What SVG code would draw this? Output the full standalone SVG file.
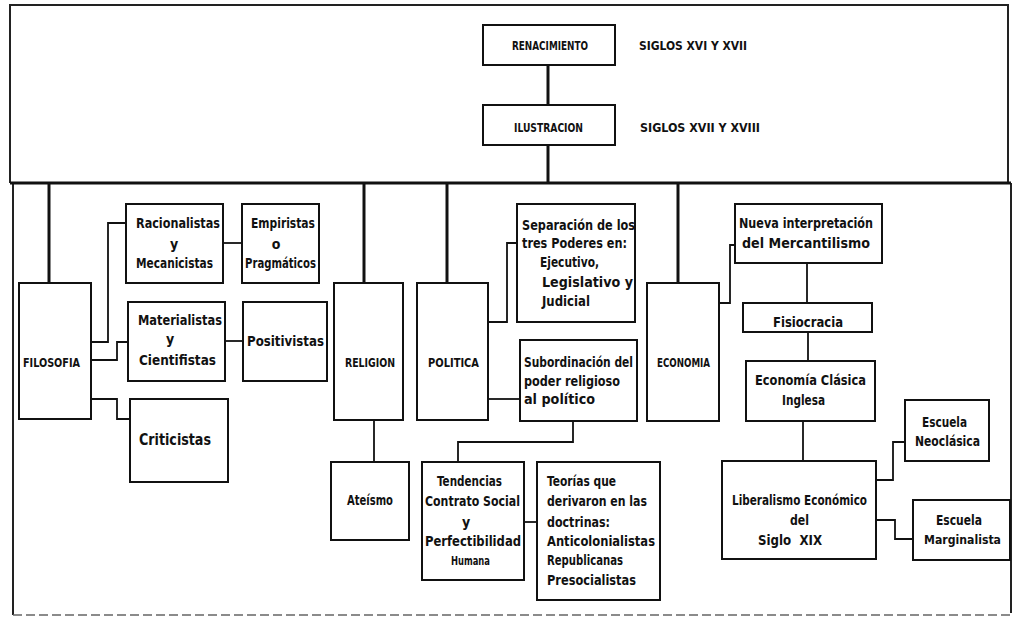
<svg xmlns="http://www.w3.org/2000/svg" width="1017" height="619" viewBox="0 0 1017 619">
<style>
.t{font-family:"DejaVu Sans Condensed","DejaVu Sans","Liberation Sans",sans-serif;font-stretch:condensed;font-weight:bold;font-size:14px;fill:#111;}
.c{font-size:12px;}
.box{fill:#fff;stroke:#111;stroke-width:2;}
.ln{fill:none;stroke:#111;stroke-width:1.8;}
.tk{fill:none;stroke:#111;stroke-width:3;}
.fr{fill:none;stroke:#222;stroke-width:2;}
.dash{fill:none;stroke:#666;stroke-width:1.5;stroke-dasharray:9 4;}
</style>
<rect width="1017" height="619" fill="#fff"/>
<g id="frame">
<path class="fr" d="M10,183 V5 H1008 V183"/>
<path class="fr" d="M13,183 V615"/>
<path class="fr" d="M1011,183 V613"/>
<path class="dash" d="M13,615 H1012"/>
</g>
<g id="connectors">
<path class="tk" d="M548,65 V105"/>
<path class="tk" d="M548,145 V183"/>
<path class="tk" d="M10,183 H1011"/>
<path class="tk" d="M49,183 V283"/>
<path class="tk" d="M364,183 V283"/>
<path class="tk" d="M447,183 V283"/>
<path class="tk" d="M678,183 V283"/>
<path class="ln" d="M91,342 H108 V223 H126"/>
<path class="ln" d="M91,360 H117 V342 H128"/>
<path class="ln" d="M91,399 H117 V419 H130"/>
<path class="ln" d="M223,243 H242"/>
<path class="ln" d="M225,341 H243"/>
<path class="ln" d="M374,420 V462"/>
<path class="ln" d="M488,322 H507 V243 H517"/>
<path class="ln" d="M488,399 H520"/>
<path class="ln" d="M573,421 V442 H458 V462"/>
<path class="ln" d="M524,522 H537"/>
<path class="ln" d="M719,303 H730 V245 H735"/>
<path class="ln" d="M807,263 V303"/>
<path class="ln" d="M808,332 V361"/>
<path class="ln" d="M803,421 V461"/>
<path class="ln" d="M876,480 H893 V442 H905"/>
<path class="ln" d="M876,520 H895 V539 H913"/>
</g>
<g id="renacimiento">
<rect class="box" x="483" y="25" width="132" height="40"/>
<text class="t c" x="512" y="50" textLength="76" lengthAdjust="spacingAndGlyphs">RENACIMIENTO</text>
</g>
<g id="siglos1">
<text class="t c" x="639" y="50" textLength="108" lengthAdjust="spacingAndGlyphs">SIGLOS XVI Y XVII</text>
</g>
<g id="ilustracion">
<rect class="box" x="483" y="105" width="132" height="40"/>
<text class="t c" x="514" y="132" textLength="69" lengthAdjust="spacingAndGlyphs">ILUSTRACION</text>
</g>
<g id="siglos2">
<text class="t c" x="640" y="132" textLength="120" lengthAdjust="spacingAndGlyphs">SIGLOS XVII Y XVIII</text>
</g>
<g id="filosofia">
<rect class="box" x="19" y="283" width="72" height="136"/>
<text class="t c" x="23" y="367" textLength="57" lengthAdjust="spacingAndGlyphs">FILOSOFIA</text>
</g>
<g id="racionalistas">
<rect class="box" x="126" y="204" width="97" height="79"/>
<text class="t" x="136" y="228" textLength="84" lengthAdjust="spacingAndGlyphs">Racionalistas</text>
<text class="t" x="174" y="249" text-anchor="middle">y</text>
<text class="t" x="136" y="268" textLength="77" lengthAdjust="spacingAndGlyphs">Mecanicistas</text>
</g>
<g id="empiristas">
<rect class="box" x="242" y="204" width="77" height="79"/>
<text class="t" x="251" y="228" textLength="64" lengthAdjust="spacingAndGlyphs">Empiristas</text>
<text class="t" x="276" y="249" text-anchor="middle">o</text>
<text class="t" x="245" y="268" textLength="71" lengthAdjust="spacingAndGlyphs">Pragmáticos</text>
</g>
<g id="materialistas">
<rect class="box" x="128" y="302" width="97" height="79"/>
<text class="t" x="138" y="325" textLength="84" lengthAdjust="spacingAndGlyphs">Materialistas</text>
<text class="t" x="170" y="344" text-anchor="middle">y</text>
<text class="t" x="139" y="365" textLength="77" lengthAdjust="spacingAndGlyphs">Cientifistas</text>
</g>
<g id="positivistas">
<rect class="box" x="243" y="302" width="84" height="79"/>
<text class="t" x="247" y="346" textLength="77" lengthAdjust="spacingAndGlyphs">Positivistas</text>
</g>
<g id="criticistas">
<rect class="box" x="130" y="399" width="98" height="83"/>
<text class="t" x="139" y="445" textLength="72" lengthAdjust="spacingAndGlyphs" style="font-size:15px">Criticistas</text>
</g>
<g id="religion">
<rect class="box" x="334" y="283" width="69" height="137"/>
<text class="t c" x="345" y="367" textLength="50" lengthAdjust="spacingAndGlyphs">RELIGION</text>
</g>
<g id="ateismo">
<rect class="box" x="331" y="462" width="78" height="78"/>
<text class="t" x="347" y="505" textLength="46" lengthAdjust="spacingAndGlyphs">Ateísmo</text>
</g>
<g id="politica">
<rect class="box" x="417" y="283" width="71" height="137"/>
<text class="t c" x="428" y="367" textLength="51" lengthAdjust="spacingAndGlyphs">POLITICA</text>
</g>
<g id="separacion">
<rect class="box" x="517" y="204" width="118" height="118"/>
<text class="t" x="522" y="230" textLength="113" lengthAdjust="spacingAndGlyphs">Separación de los</text>
<text class="t" x="522" y="248" textLength="105" lengthAdjust="spacingAndGlyphs">tres Poderes en:</text>
<text class="t" x="540" y="267" textLength="59" lengthAdjust="spacingAndGlyphs">Ejecutivo,</text>
<text class="t" x="542" y="287" textLength="91" lengthAdjust="spacingAndGlyphs">Legislativo y</text>
<text class="t" x="542" y="306" textLength="48" lengthAdjust="spacingAndGlyphs">Judicial</text>
</g>
<g id="subordinacion">
<rect class="box" x="520" y="340" width="117" height="81"/>
<text class="t" x="524" y="367" textLength="109" lengthAdjust="spacingAndGlyphs">Subordinación del</text>
<text class="t" x="524" y="386" textLength="96" lengthAdjust="spacingAndGlyphs">poder religioso</text>
<text class="t" x="524" y="404" textLength="71" lengthAdjust="spacingAndGlyphs">al político</text>
</g>
<g id="tendencias">
<rect class="box" x="422" y="462" width="102" height="118"/>
<text class="t" x="437" y="486" textLength="65" lengthAdjust="spacingAndGlyphs">Tendencias</text>
<text class="t" x="425" y="506" textLength="95" lengthAdjust="spacingAndGlyphs">Contrato Social</text>
<text class="t" x="466" y="527" text-anchor="middle">y</text>
<text class="t" x="425" y="546" textLength="96" lengthAdjust="spacingAndGlyphs">Perfectibilidad</text>
<text class="t" x="451" y="565" textLength="39" lengthAdjust="spacingAndGlyphs" style="font-size:12px">Humana</text>
</g>
<g id="teorias">
<rect class="box" x="537" y="462" width="123" height="138"/>
<text class="t" x="547" y="486" textLength="69" lengthAdjust="spacingAndGlyphs">Teorías que</text>
<text class="t" x="547" y="506" textLength="100" lengthAdjust="spacingAndGlyphs">derivaron en las</text>
<text class="t" x="547" y="527" textLength="63" lengthAdjust="spacingAndGlyphs">doctrinas:</text>
<text class="t" x="547" y="546" textLength="108" lengthAdjust="spacingAndGlyphs">Anticolonialistas</text>
<text class="t" x="547" y="565" textLength="76" lengthAdjust="spacingAndGlyphs">Republicanas</text>
<text class="t" x="547" y="585" textLength="89" lengthAdjust="spacingAndGlyphs">Presocialistas</text>
</g>
<g id="economia">
<rect class="box" x="647" y="283" width="72" height="138"/>
<text class="t c" x="657" y="367" textLength="53" lengthAdjust="spacingAndGlyphs">ECONOMIA</text>
</g>
<g id="mercantilismo">
<rect class="box" x="735" y="204" width="147" height="59"/>
<text class="t" x="739" y="228" textLength="134" lengthAdjust="spacingAndGlyphs">Nueva interpretación</text>
<text class="t" x="742" y="248" textLength="128" lengthAdjust="spacingAndGlyphs">del Mercantilismo</text>
</g>
<g id="fisiocracia">
<rect class="box" x="743" y="303" width="129" height="29"/>
<text class="t" x="773" y="327" textLength="70" lengthAdjust="spacingAndGlyphs">Fisiocracia</text>
</g>
<g id="clasica">
<rect class="box" x="746" y="361" width="129" height="60"/>
<text class="t" x="755" y="385" textLength="111" lengthAdjust="spacingAndGlyphs">Economía Clásica</text>
<text class="t" x="782" y="405" textLength="43" lengthAdjust="spacingAndGlyphs">Inglesa</text>
</g>
<g id="liberalismo">
<rect class="box" x="722" y="461" width="154" height="98"/>
<text class="t" x="732" y="505" textLength="135" lengthAdjust="spacingAndGlyphs">Liberalismo Económico</text>
<text class="t" x="790" y="525" textLength="19" lengthAdjust="spacingAndGlyphs">del</text>
<text class="t" x="758" y="545" textLength="64" lengthAdjust="spacingAndGlyphs" xml:space="preserve">Siglo  XIX</text>
</g>
<g id="neoclasica">
<rect class="box" x="905" y="400" width="84" height="61"/>
<text class="t" x="922" y="427" textLength="45" lengthAdjust="spacingAndGlyphs">Escuela</text>
<text class="t" x="915" y="446" textLength="65" lengthAdjust="spacingAndGlyphs">Neoclásica</text>
</g>
<g id="marginalista">
<rect class="box" x="913" y="500" width="97" height="60"/>
<text class="t" x="936" y="525" textLength="46" lengthAdjust="spacingAndGlyphs">Escuela</text>
<text class="t" x="924" y="544" textLength="77" lengthAdjust="spacingAndGlyphs" style="font-size:13px">Marginalista</text>
</g>
</svg>
